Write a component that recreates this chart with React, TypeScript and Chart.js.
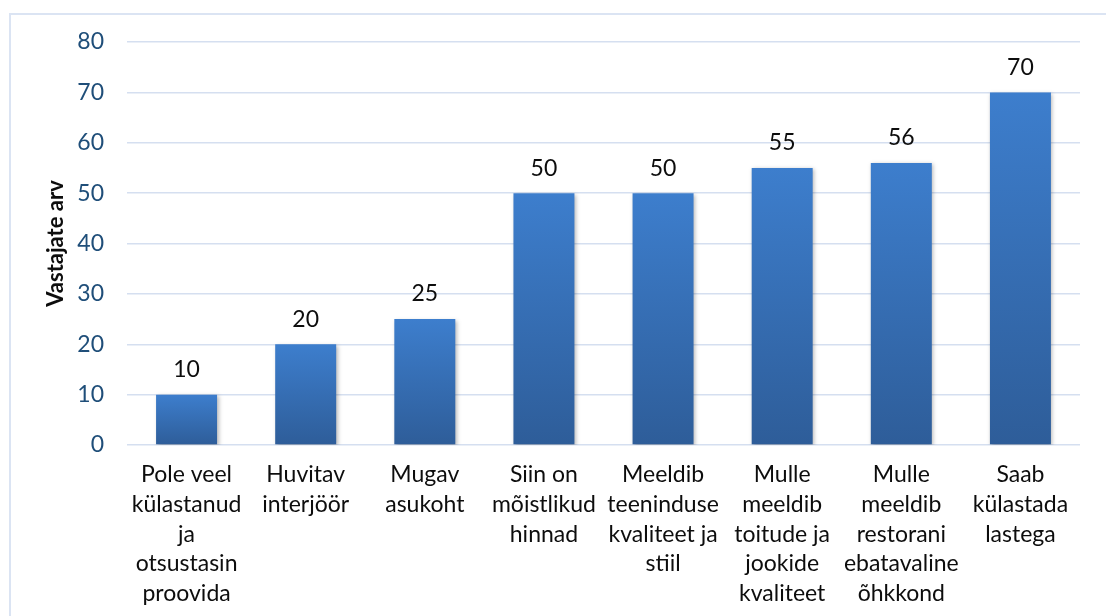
import React, { useEffect, useRef } from "react";
import { Chart, registerables } from "chart.js";

Chart.register(...registerables);

const categories: string[][] = [
  ["Pole veel", "külastanud", "ja", "otsustasin", "proovida"],
  ["Huvitav", "interjöör"],
  ["Mugav", "asukoht"],
  ["Siin on", "mõistlikud", "hinnad"],
  ["Meeldib", "teeninduse", "kvaliteet ja", "stiil"],
  ["Mulle", "meeldib", "toitude ja", "jookide", "kvaliteet"],
  ["Mulle", "meeldib", "restorani", "ebatavaline", "õhkkond"],
  ["Saab", "külastada", "lastega"],
];

const respondents: number[] = [10, 20, 25, 50, 50, 55, 56, 70];

const yAxisTitle = "Vastajate arv";
const yMax = 80;
const yStep = 10;

const FONT = "Lato, 'Open Sans', sans-serif";

// Soft drop shadow behind the bars
const barShadow = {
  id: "barShadow",
  beforeDatasetsDraw(chart: any) {
    const ctx = chart.ctx;
    ctx.save();
    ctx.shadowColor = "rgba(0,0,0,0.28)";
    ctx.shadowBlur = 4;
    ctx.shadowOffsetX = 1.5;
    ctx.shadowOffsetY = 1.5;
  },
  afterDatasetsDraw(chart: any) {
    chart.ctx.restore();
  },
};

// Value labels above each bar
const valueLabels = {
  id: "valueLabels",
  afterDatasetsDraw(chart: any) {
    const ctx = chart.ctx;
    const meta = chart.getDatasetMeta(0);
    const data = chart.data.datasets[0].data as number[];
    ctx.save();
    ctx.font = `23px ${FONT}`;
    ctx.fillStyle = "#0d0d0d";
    ctx.textAlign = "center";
    ctx.textBaseline = "middle";
    meta.data.forEach((bar: any, i: number) => {
      ctx.fillText(String(data[i]), bar.x, bar.y - 25);
    });
    ctx.restore();
  },
};

export default function App() {
  const canvasRef = useRef<HTMLCanvasElement | null>(null);

  useEffect(() => {
    const canvas = canvasRef.current;
    if (!canvas) return;
    const chart = new Chart(canvas, {
      type: "bar",
      data: {
        labels: categories,
        datasets: [
          {
            data: respondents,
            backgroundColor: (c: any) => {
              const ch = c.chart;
              const y = ch.scales && ch.scales.y;
              if (!y || c.raw === undefined) return "#3570b8";
              const top = y.getPixelForValue(c.raw);
              const base = y.getPixelForValue(0);
              if (!isFinite(top) || !isFinite(base) || top === base) return "#3570b8";
              const g = ch.ctx.createLinearGradient(0, top, 0, base);
              g.addColorStop(0, "#3d7ecd");
              g.addColorStop(1, "#2e5d99");
              return g;
            },
            borderWidth: 0,
            barPercentage: 0.512,
            categoryPercentage: 1,
          },
        ],
      },
      options: {
        animation: false,
        responsive: false,
        layout: { padding: { top: 42, right: 26, left: 0, bottom: 0 } },
        plugins: {
          legend: { display: false },
          tooltip: { enabled: false },
        },
        scales: {
          x: {
            grid: { display: false, drawTicks: false },
            border: { display: false },
            ticks: {
              color: "#0d0d0d",
              font: { family: FONT, size: 23, lineHeight: 1.29 },
              padding: 15,
              maxRotation: 0,
              autoSkip: false,
            },
            afterFit: (s: any) => {
              s.height = 171;
            },
          },
          y: {
            min: 0,
            max: yMax,
            grid: { color: "#d5dff0", lineWidth: 1.5, drawTicks: false },
            border: { display: false },
            ticks: {
              stepSize: yStep,
              color: "#1f4e79",
              font: { family: FONT, size: 23 },
              padding: 23,
            },
            title: {
              display: true,
              text: yAxisTitle,
              color: "#0d0d0d",
              font: { family: FONT, size: 22, weight: "bold" },
              padding: { top: 43, bottom: 0 },
            },
            afterFit: (s: any) => {
              s.width = 127;
            },
          },
        },
      },
      plugins: [barShadow, valueLabels],
    });
    return () => chart.destroy();
  }, []);

  return (
    <div
      style={{
        position: "fixed",
        left: 0,
        top: 0,
        width: 1106,
        height: 616,
        overflow: "hidden",
        background: "#ffffff",
      }}
    >
      <div
        style={{
          position: "absolute",
          left: 9,
          top: 13,
          width: 1200,
          height: 700,
          border: "2px solid #dbe4f3",
          boxSizing: "border-box",
        }}
      />
      <canvas
        ref={canvasRef}
        width={1106}
        height={616}
        style={{ position: "absolute", left: 0, top: 0, width: 1106, height: 616 }}
      />
    </div>
  );
}
